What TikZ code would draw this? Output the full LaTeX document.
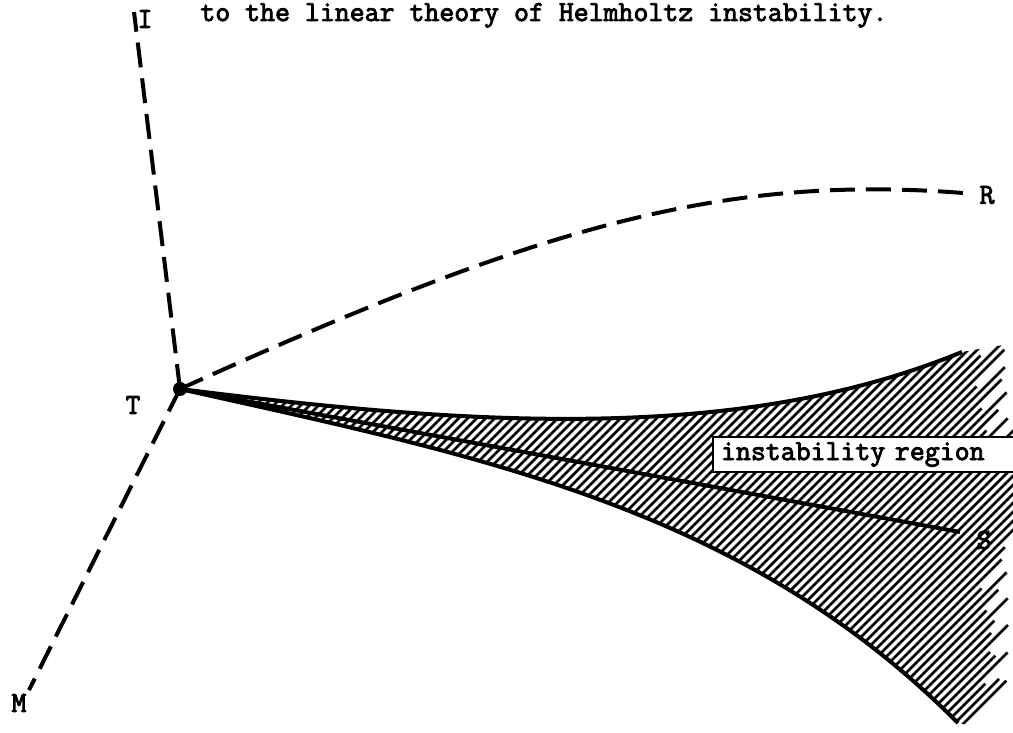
\documentclass[tikz,border=0pt]{standalone}
\usepackage{fontspec}
\newfontfamily\typew[FakeBold=3]{Latin Modern Mono}
\tikzset{
  lbl/.style={font=\typew\fontsize{14.5}{16}\selectfont, inner sep=0pt},
  boxlbl/.style={lbl, draw, fill=white, line width=1pt, anchor=west, minimum height=17.5pt,
                 text width=165pt, align=left, inner xsep=4pt},
  axis/.style={line width=2pt, dash pattern=on 12.5pt off 5.5pt},
  bound/.style={line width=2pt},
  hatch/.style={line width=1.4pt},
}
\begin{document}
\begin{tikzpicture}[x=0.5pt,y=-0.5pt]
\useasboundingbox (0,0) rectangle (1013,733);
\clip (0,0) rectangle (1013,733);
% key points
\coordinate (T) at (180,389);
\coordinate (Iend) at (134,12);
\coordinate (Mend) at (29,690);
\coordinate (Rend) at (963,193);
\coordinate (Send) at (960,532);
\coordinate (Uend) at (962,352);
\coordinate (Lend) at (958,723);
% caption
\node[lbl, anchor=base west] (cap) at (200,21) {to the linear theory of Helmholtz instability.};
% hatching
\begin{scope}
  \clip (T) .. controls (480,427) and (742,442) .. (Uend) -- (1015,343) -- (1015,735)
     -- (Lend) .. controls (743,507) and (480,456) .. (T) -- cycle;
  \foreach \k in {562,571,...,1690} {
    \pgfmathsetmacro\xe{(\k>1436 && \k<1545) ? 1030 : 976 + 32*abs(sin(\k*7))}
    \draw[hatch] (\k-800,800) -- (\xe,\k-\xe);
  }
\end{scope}
% boundaries
\draw[bound] (T) .. controls (480,427) and (742,442) .. (Uend);
\draw[bound] (T) .. controls (480,456) and (743,507) .. (Lend);
\draw[bound] (T) -- (Send);
% dashed axes
\draw[axis] (T) -- (Iend);
\draw[axis] (T) -- (Mend);
\draw[axis] (T) .. controls (535,228) and (720,174) .. (Rend);
\fill (T) circle (3.5pt);
% labels
\node[lbl] (I) at (145,19) {I};
\node[lbl] (Tl) at (133,405) {T};
\node[lbl] (M) at (19,703) {M};
\node[lbl] (R) at (987,195) {R};
\node[lbl] (S) at (984,540) {S};
\node[boxlbl] (box) at (712,454.5) {instability region};
\end{tikzpicture}
\end{document}
